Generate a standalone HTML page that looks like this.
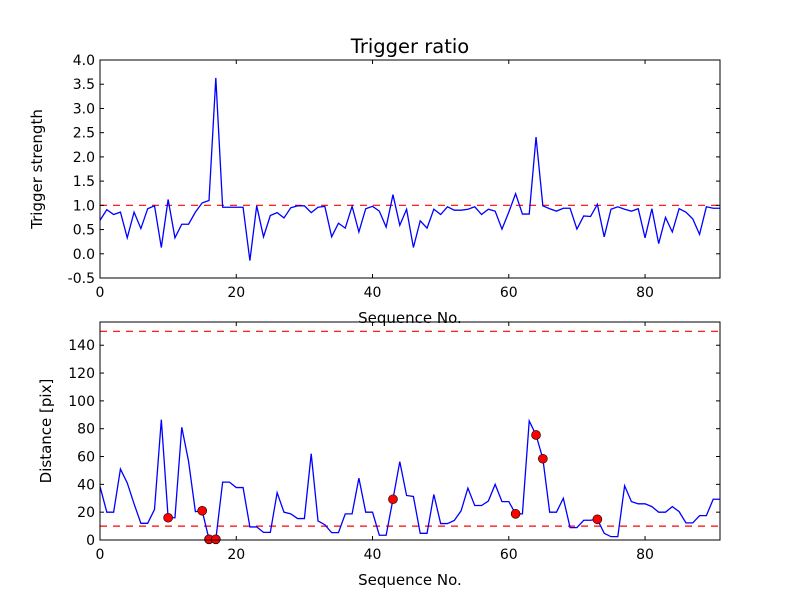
<!DOCTYPE html>
<html><head><meta charset="utf-8"><style>
body{margin:0;background:#fff;}
svg{display:block;font-family:"DejaVu Sans","Liberation Sans",sans-serif;}
</style></head><body>
<svg id="chart" width="800" height="600" viewBox="0 0 800 600" xmlns="http://www.w3.org/2000/svg">
<rect width="800" height="600" fill="#fff"/>
</svg>
<script>
const strength = [0.69,0.91,0.81,0.86,0.33,0.86,0.52,0.93,0.99,0.13,1.12,0.33,0.61,0.61,0.86,1.05,1.10,3.63,0.96,0.96,0.96,0.96,-0.14,0.99,0.35,0.79,0.85,0.74,0.95,0.99,0.99,0.85,0.96,0.98,0.35,0.63,0.53,0.98,0.45,0.93,0.98,0.88,0.55,1.22,0.59,0.92,0.13,0.68,0.53,0.92,0.81,0.97,0.90,0.90,0.92,0.97,0.81,0.92,0.88,0.51,0.86,1.24,0.82,0.82,2.41,0.99,0.93,0.88,0.94,0.94,0.51,0.78,0.77,1.02,0.35,0.92,0.97,0.92,0.88,0.93,0.33,0.93,0.21,0.75,0.45,0.93,0.86,0.72,0.40,0.97,0.94,0.94];
const distance = [38.5,20,20,51,41,26,12,12,22,86.5,16,16,81,56.5,20.4,21,0.5,0.5,41.6,41.6,37.7,37.7,9.4,9.4,5.5,5.5,34,20,18.8,15.4,15.4,62,13.7,11,5.3,5.3,18.8,18.8,44.5,20,20,3.4,3.4,29.3,56.3,32,31.3,4.8,4.8,32.7,11.8,11.8,14,21,37.3,24.8,24.8,28,40,27.6,27.6,18.8,18.8,85.6,75.5,58.4,20,20,30,8.9,8.9,14.2,14.2,14.9,4.8,2.4,2.4,39,27.6,26,26,24,20,20,24,20.4,12.3,12.3,17.5,17.5,29.3,29.3];
const flagged = [10,15,16,17,43,61,64,65,73];
const xTicks = [0,20,40,60,80];
const topTicks = [-0.5,0,0.5,1,1.5,2,2.5,3,3.5,4];
const botTicks = [0,20,40,60,80,100,120,140];
const topThreshold = [1.0];
const botThresholds = [10,150];

const svg = document.getElementById('chart');
const NS = 'http://www.w3.org/2000/svg';
function mk(tag, attrs, parent){const e=document.createElementNS(NS,tag);for(const k in attrs)e.setAttribute(k,attrs[k]);(parent||svg).appendChild(e);return e;}

function panel(name, top, bottom, ymin, ymax, yTicks, fmt, ylabel, series, thresholds, markers){
  const L=100,R=720,xmin=0,xmax=91;
  const sx=v=>L+(v-xmin)/(xmax-xmin)*(R-L);
  const sy=v=>bottom-(v-ymin)/(ymax-ymin)*(bottom-top);
  const g=mk('g',{});
  
  
  const clipId=name+'-clip';
  const cp=mk('clipPath',{id:clipId},g); mk('rect',{x:L,y:top,width:R-L,height:bottom-top},cp);
  thresholds.forEach(t=>{
    const l=mk('line',{x1:L,x2:R,y1:sy(t),y2:sy(t),stroke:'#ff0000','stroke-width':1.2,'stroke-dasharray':'7,6','clip-path':'url(#'+clipId+')'},g);
    
    
  });
  const pts=series.map((v,i)=>sx(i).toFixed(2)+','+sy(v).toFixed(2)).join(' ');
  const pl=mk('polyline',{points:pts,fill:'none',stroke:'#0000ff','stroke-width':1.3,'clip-path':'url(#'+clipId+')'},g);
  
  
  if(markers){
    markers.forEach(i=>{
      const c=mk('circle',{cx:sx(i),cy:sy(series[i]),r:4.5,fill:'#ff0000',stroke:'#000','stroke-width':0.6},g);
      
      
    });
  }
  const f=mk('rect',{x:L,y:top,width:R-L,height:bottom-top,fill:'none',stroke:'#000','stroke-width':1},g);
  
  
  xTicks.forEach(t=>{
    const x=sx(t);
    mk('line',{x1:x,x2:x,y1:bottom,y2:bottom-4,stroke:'#000'},g);
    mk('line',{x1:x,x2:x,y1:top,y2:top+4,stroke:'#000'},g);
    const tx=mk('text',{x:x,y:bottom+19,'font-size':14,'text-anchor':'middle'},g);
    tx.textContent=t;
    
    
  });
  yTicks.forEach(t=>{
    const y=sy(t);
    mk('line',{x1:L,x2:L+4,y1:y,y2:y,stroke:'#000'},g);
    mk('line',{x1:R,x2:R-4,y1:y,y2:y,stroke:'#000'},g);
    const tx=mk('text',{x:L-5,y:y+5,'font-size':14,'text-anchor':'end'},g);
    tx.textContent=fmt(t);
    
    
  });
  const xl=mk('text',{x:410,y:bottom+45,'font-size':15,'text-anchor':'middle'},g);
  xl.textContent='Sequence No.';
  
  
  const yx = name==='top'?42:51;
  const yl=mk('text',{x:yx,y:(top+bottom)/2,'font-size':15,'text-anchor':'middle',transform:'rotate(-90 '+yx+' '+((top+bottom)/2)+')'},g);
  yl.textContent=ylabel;
  
  
}
panel('top',60,278,-0.5,4.0,topTicks,v=>v.toFixed(1),'Trigger strength',strength,topThreshold,null);
panel('bottom',322,540,0,156.7,botTicks,v=>String(v),'Distance [pix]',distance,botThresholds,flagged);
const title=mk('text',{x:410,y:53,'font-size':19.5,'text-anchor':'middle'});
title.textContent='Trigger ratio';


</script>
</body></html>
